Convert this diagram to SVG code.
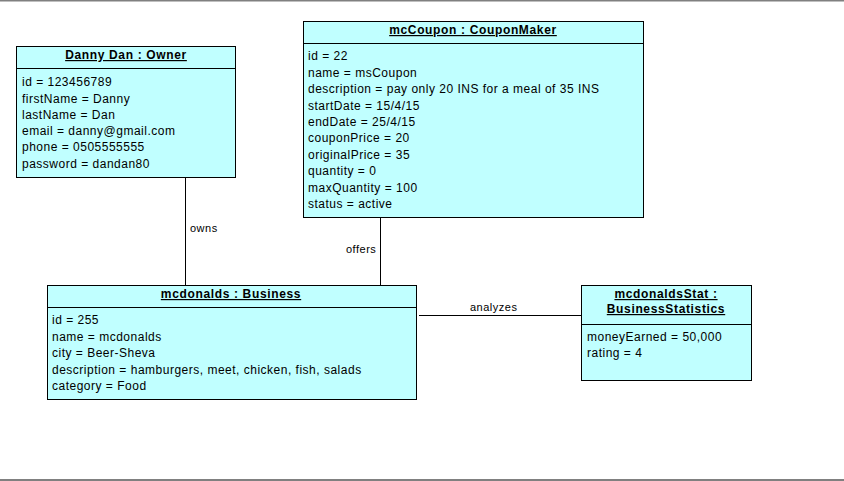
<svg xmlns="http://www.w3.org/2000/svg" width="844" height="481" viewBox="0 0 844 481">
<style>
.box{fill:#c0ffff;stroke:#000;stroke-width:1}
.sep{stroke:#000;stroke-width:1}
text{font-family:"Liberation Sans",Arial,sans-serif;font-size:12px;fill:#000;letter-spacing:0.5px}
.t{font-weight:bold;text-decoration:underline;text-anchor:middle;letter-spacing:0.65px}
.c{stroke:#000;stroke-width:1;fill:none}
.lbl{font-size:11px}
</style>
<rect x="0" y="0" width="844" height="481" fill="#fff"/>
<line x1="0" y1="0.5" x2="844" y2="0.5" stroke="#808080" stroke-width="2"/>
<line x1="0" y1="480" x2="844" y2="480" stroke="#808080" stroke-width="2"/>
<g id="connectors">
<line class="c" x1="185.5" y1="177" x2="185.5" y2="285"/>
<text class="lbl" x="190" y="232">owns</text>
<line class="c" x1="380.5" y1="217" x2="380.5" y2="285"/>
<text class="lbl" x="346" y="253">offers</text>
<line class="c" x1="419" y1="315.5" x2="581" y2="315.5"/>
<text class="lbl" x="470" y="311">analyzes</text>
</g>
<g id="owner">
<rect class="box" x="16.5" y="46.5" width="219" height="131"/>
<line class="sep" x1="16.5" y1="68.5" x2="235.5" y2="68.5"/>
<text class="t" x="126" y="59">Danny Dan : Owner</text>
<text x="22" y="86">id = 123456789</text>
<text x="22" y="102.5">firstName = Danny</text>
<text x="22" y="119">lastName = Dan</text>
<text x="22" y="135">email = danny@gmail.com</text>
<text x="22" y="151">phone = 0505555555</text>
<text x="22" y="167.5">password = dandan80</text>
</g>
<g id="coupon">
<rect class="box" x="303.5" y="21.5" width="340" height="196"/>
<line class="sep" x1="303.5" y1="43.5" x2="643.5" y2="43.5"/>
<text class="t" x="473" y="34">mcCoupon : CouponMaker</text>
<text x="308" y="60">id = 22</text>
<text x="308" y="76.5">name = msCoupon</text>
<text x="308" y="93">description = pay only 20 INS for a meal of 35 INS</text>
<text x="308" y="109.5">startDate = 15/4/15</text>
<text x="308" y="126">endDate = 25/4/15</text>
<text x="308" y="142">couponPrice = 20</text>
<text x="308" y="158.5">originalPrice = 35</text>
<text x="308" y="175">quantity = 0</text>
<text x="308" y="191.5">maxQuantity = 100</text>
<text x="308" y="208">status = active</text>
</g>
<g id="business">
<rect class="box" x="47.5" y="285.5" width="369" height="114"/>
<line class="sep" x1="47.5" y1="307.5" x2="416.5" y2="307.5"/>
<text class="t" x="231" y="298">mcdonalds : Business</text>
<text x="52" y="324">id = 255</text>
<text x="52" y="340.5">name = mcdonalds</text>
<text x="52" y="357">city = Beer-Sheva</text>
<text x="52" y="373.5">description = hamburgers, meet, chicken, fish, salads</text>
<text x="52" y="390">category = Food</text>
</g>
<g id="stats">
<rect class="box" x="581.5" y="285.5" width="170" height="95"/>
<line class="sep" x1="581.5" y1="324.5" x2="751.5" y2="324.5"/>
<text class="t" x="666" y="298">mcdonaldsStat :</text>
<text class="t" x="666" y="313">BusinessStatistics</text>
<text x="587" y="341">moneyEarned = 50,000</text>
<text x="587" y="357">rating = 4</text>
</g>
</svg>
